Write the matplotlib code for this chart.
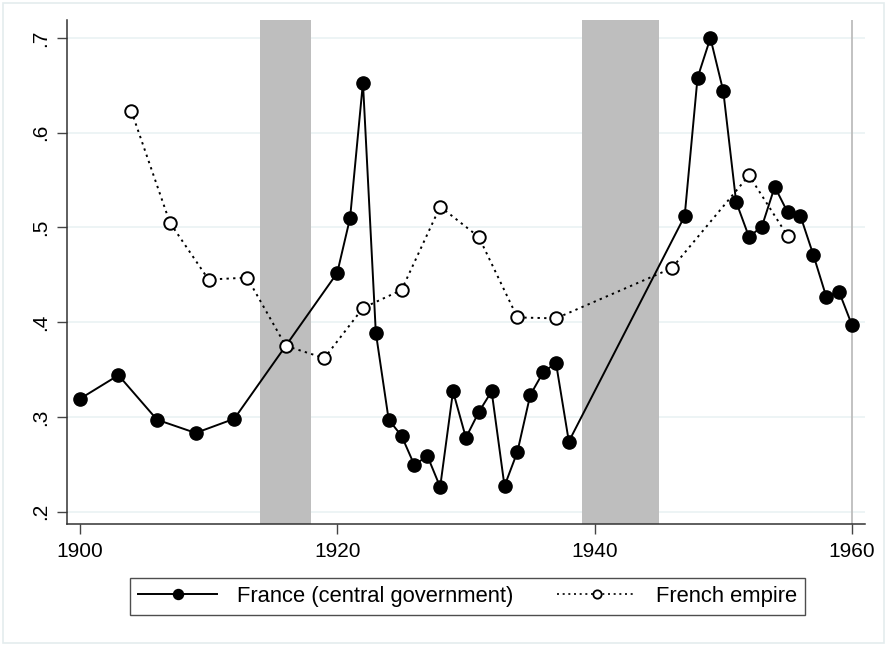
import matplotlib
matplotlib.use("Agg")
import matplotlib.pyplot as plt
from matplotlib.patches import Rectangle
from matplotlib.lines import Line2D

plt.rcParams['font.family'] = ['Liberation Sans', 'DejaVu Sans']

france_years = [1900, 1903, 1906, 1909, 1912, 1920, 1921, 1922, 1923, 1924, 1925,
                1926, 1927, 1928, 1929, 1930, 1931, 1932, 1933, 1934, 1935, 1936,
                1937, 1938, 1947, 1948, 1949, 1950, 1951, 1952, 1953, 1954, 1955,
                1956, 1957, 1958, 1959, 1960]
france_values = [0.319, 0.344, 0.297, 0.283, 0.298, 0.452, 0.510, 0.653, 0.389, 0.297,
                 0.280, 0.249, 0.259, 0.226, 0.327, 0.278, 0.305, 0.327, 0.227, 0.263,
                 0.323, 0.347, 0.357, 0.274, 0.512, 0.658, 0.700, 0.644, 0.527, 0.490,
                 0.501, 0.543, 0.516, 0.512, 0.471, 0.427, 0.432, 0.397]

empire_years = [1904, 1907, 1910, 1913, 1916, 1919, 1922, 1925, 1928, 1931, 1934,
                1937, 1946, 1952, 1955]
empire_values = [0.623, 0.505, 0.445, 0.447, 0.375, 0.362, 0.415, 0.434, 0.522, 0.490,
                 0.405, 0.404, 0.457, 0.555, 0.491]

war_periods = [(1914, 1918), (1939, 1945)]
x_ticks = [1900, 1920, 1940, 1960]
y_ticks = [0.2, 0.3, 0.4, 0.5, 0.6, 0.7]
y_labels = ['.2', '.3', '.4', '.5', '.6', '.7']
series_labels = ['France (central government)', 'French empire']

fig = plt.figure(figsize=(8.87, 6.46), dpi=100)
ax = fig.add_axes([0.0755, 0.189, 0.8995, 0.780])

for a, b in war_periods:
    ax.axvspan(a, b, color='#BEBEBE', lw=0, zorder=1)

for y in y_ticks:
    ax.axhline(y, color='#EAF2F3', lw=1.2, zorder=0)
ax.axvline(1960, color='#BDBDBD', lw=1.3, zorder=1)

dotted = (0, (1.2, 2.2))
ax.plot(france_years, france_values, color='black', lw=1.4, marker='o',
        markersize=9.5, markerfacecolor='black', markeredgecolor='black', zorder=3)
ax.plot(empire_years, empire_values, color='black', lw=1.4, linestyle=dotted,
        marker='o', markersize=9, markerfacecolor='white', markeredgecolor='black',
        markeredgewidth=1.4, zorder=3)

ax.set_xlim(1899, 1961)
ax.set_ylim(0.187, 0.719)
ax.set_xticks(x_ticks)
ax.set_xticklabels([str(t) for t in x_ticks])
ax.set_yticks(y_ticks)
ax.set_yticklabels(y_labels, rotation=90, va='center')
ax.tick_params(axis='both', labelsize=15, length=7, width=1, color='#444444', direction='out')
ax.tick_params(axis='x', pad=6)
ax.tick_params(axis='y', pad=5)
for s in ['top', 'right']:
    ax.spines[s].set_visible(False)
for s in ['left', 'bottom']:
    ax.spines[s].set_color('#333333')
    ax.spines[s].set_linewidth(1.1)

handles = [
    Line2D([], [], color='black', lw=1.4, marker='o', markersize=7.2,
           markerfacecolor='black', markeredgecolor='black'),
    Line2D([], [], color='black', lw=1.2, linestyle=dotted, marker='o', markersize=6,
           markerfacecolor='white', markeredgecolor='black', markeredgewidth=1.3),
]
leg = fig.legend(handles, series_labels, loc='center', bbox_to_anchor=(0.527, 0.0766),
                 ncol=2, fontsize=15.8, frameon=True, fancybox=False, edgecolor='#222222',
                 handlelength=3.6, columnspacing=2.0, borderpad=0.35, handletextpad=0.9)
leg.get_frame().set_linewidth(1.0)

fig.patches.append(Rectangle((0.003, 0.005), 0.994, 0.99, transform=fig.transFigure,
                             fill=False, edgecolor='#E4ECEE', lw=1.2))

fig.savefig('out.png', dpi=100)
